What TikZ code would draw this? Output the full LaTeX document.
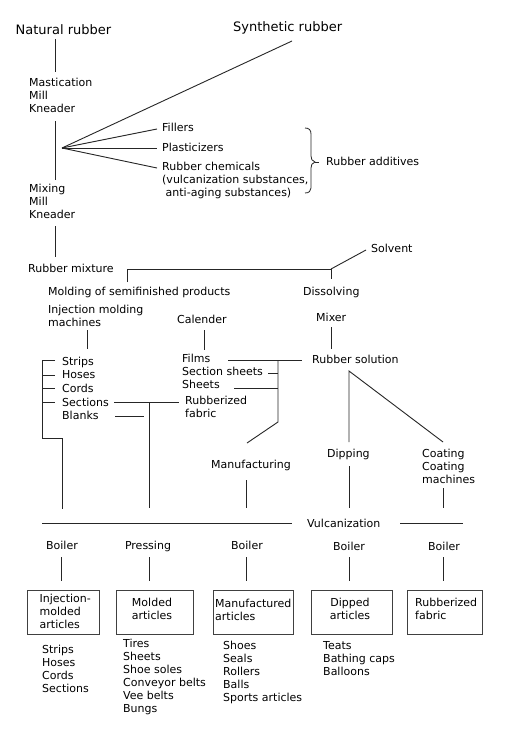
\documentclass[tikz,border=0pt]{standalone}
\usepackage{fontspec}
\setmainfont{DejaVu Sans}
\begin{document}
\begin{tikzpicture}[x=1pt,y={(0pt,-1pt)},
  txt/.style={inner sep=0pt, anchor=west, align=left, font=\fontsize{11}{13}\selectfont},
  ttl/.style={inner sep=0pt, anchor=west, font=\fontsize{13}{15}\selectfont},
  ctr/.style={inner sep=0pt, anchor=center, align=center, font=\fontsize{11}{13}\selectfont},
  conn/.style={draw=black!85, line width=0.9pt},
  boxst/.style={draw=black!75, line width=1pt, inner sep=0pt, minimum width=#1, minimum height=44}]
\useasboundingbox[fill=white] (0,0) rectangle (507,736);

% ---- top ----
\node[ttl] (nat) at (15.5,30) {Natural rubber};
\node[ttl] (syn) at (233,28) {Synthetic rubber};
\node[txt] (mast) at (29,95) {Mastication\\Mill\\Kneader};
\node[txt] (fil) at (162,127) {Fillers};
\node[txt] (pla) at (162,147) {Plasticizers};
\node[txt] (chem) at (162,180) {Rubber chemicals\\(vulcanization substances,\\\hspace{3.5pt}anti-aging substances)};
\node[txt] (add) at (326,161) {Rubber additives};
\node[txt] (mix) at (29,201) {Mixing\\Mill\\Kneader};
\node[txt] (rmix) at (28,268) {Rubber mixture};
\node[txt] (solv) at (371,248) {Solvent};
\node[txt] (mold) at (48,292) {Molding of semifinished products};
\node[txt] (diss) at (303,292) {Dissolving};
\node[txt] (inj) at (48,315.5) {Injection molding\\machines};
\node[txt] (cal) at (177,319) {Calender};
\node[txt] (mixer) at (316,317) {Mixer};

% ---- middle ----
\node[txt] (strips) at (62,362) {Strips};
\node[txt] (hoses) at (62,375) {Hoses};
\node[txt] (cords) at (62,388) {Cords};
\node[txt] (sect) at (62,402) {Sections};
\node[txt] (blanks) at (62,415) {Blanks};
\node[txt] (films) at (182,358) {Films};
\node[txt] (ssheets) at (182,371) {Section sheets};
\node[txt] (sheets) at (182,384) {Sheets};
\node[txt] (rfab) at (185,406.5) {Rubberized\\fabric};
\node[txt] (rsol) at (312,359) {Rubber solution};
\node[txt] (manuf) at (211,465) {Manufacturing};
\node[txt] (dip) at (327,454) {Dipping};
\node[txt] (coat) at (422,466) {Coating\\Coating\\machines};
\node[txt] (vulc) at (307,523) {Vulcanization};

% ---- bottom ----
\node[ctr] (b1) at (62,545) {Boiler};
\node[ctr] (b2) at (148,546) {Pressing};
\node[ctr] (b3) at (247,545) {Boiler};
\node[ctr] (b4) at (349,546) {Boiler};
\node[ctr] (b5) at (444,546) {Boiler};

\node[boxst=72] (bx1) at (63,612) {};
\node[boxst=77] (bx2) at (154.5,612) {};
\node[boxst=80] (bx3) at (253,612) {};
\node[boxst=81] (bx4) at (351.5,612) {};
\node[boxst=75] (bx5) at (444.5,612) {};
\node[txt] (t1) at (39.5,611) {Injection-\\molded\\articles};
\node[ctr] (t2) at (152,608.5) {Molded\\articles};
\node[txt] (t3) at (215,609.5) {Manufactured\\articles};
\node[ctr] (t4) at (350,608.5) {Dipped\\articles};
\node[txt] (t5) at (415,608.5) {Rubberized\\fabric};

\node[txt] (l1) at (42,668.5) {Strips\\Hoses\\Cords\\Sections};
\node[txt] (l2) at (123,677) {Tires\\Sheets\\Shoe soles\\Conveyor belts\\Vee belts\\Bungs};
\node[txt] (l3) at (223,672) {Shoes\\Seals\\Rollers\\Balls\\Sports articles};
\node[txt] (l4) at (323,659) {Teats\\Bathing caps\\Balloons};

% ---- connector points ----
\coordinate (c1a) at (55,39);  \coordinate (c1b) at (55,72);
\coordinate (c2a) at (55,121); \coordinate (c2b) at (55,180);
\coordinate (fan) at (62,148);
\coordinate (synE) at (292,41);
\coordinate (filE) at (157,129);
\coordinate (plaE) at (157,148);
\coordinate (chemE) at (157,168);
\coordinate (c3a) at (55,226); \coordinate (c3b) at (55,257);
\coordinate (sp1) at (127,282); \coordinate (sp2) at (127,269);
\coordinate (sp3) at (331,269); \coordinate (sp4) at (331,279);
\coordinate (solE) at (366,250);
\coordinate (i1) at (87,330); \coordinate (i2) at (87,349);
\coordinate (k1) at (204,330); \coordinate (k2) at (204,350);
\coordinate (m1) at (331,327); \coordinate (m2) at (331,349);
\coordinate (lb1) at (55,360); \coordinate (lb2) at (42,360);
\coordinate (lb3) at (42,438); \coordinate (lb4) at (62,438); \coordinate (lb5) at (62,509);
\coordinate (secA) at (114,402); \coordinate (secB) at (179,402);
\coordinate (blA) at (115,416); \coordinate (blB) at (144,416);
\coordinate (pv1) at (149,402); \coordinate (pv2) at (149,508);
\coordinate (fA) at (228,360); \coordinate (fB) at (302,360);
\coordinate (fv1) at (278,360); \coordinate (fv2) at (278,422); \coordinate (fv3) at (247,443);
\coordinate (ssA) at (268,373); \coordinate (ssB) at (278,373);
\coordinate (shA) at (234,388); \coordinate (shB) at (278,388);
\coordinate (rs1) at (349,371); \coordinate (rs2) at (349,442); \coordinate (rs3) at (443,442);
\coordinate (mf1) at (246,480); \coordinate (mf2) at (246,508);
\coordinate (dp1) at (349,466); \coordinate (dp2) at (349,508);
\coordinate (ct1) at (443,488); \coordinate (ct2) at (443,508);
\coordinate (v1) at (42,523); \coordinate (v2) at (292,523);
\coordinate (v3) at (400,523); \coordinate (v4) at (463,523);

% ---- connectors ----
\draw[conn] (c1a) -- (c1b);
\draw[conn] (c2a) -- (c2b);
\draw[conn] (fan) -- (synE);
\draw[conn] (fan) -- (filE);
\draw[conn] (fan) -- (plaE);
\draw[conn] (fan) -- (chemE);
\draw[conn] (c3a) -- (c3b);
\draw[conn] (sp1) -- (sp2) -- (sp3) -- (sp4);
\draw[conn] (sp3) -- (solE);
\draw[conn] (i1) -- (i2);
\draw[conn] (k1) -- (k2);
\draw[conn] (m1) -- (m2);
\draw[conn] (lb1) -- (lb2) -- (lb3) -- (lb4) -- (lb5);
\draw[conn] (lb2 |- hoses) -- ++(13,0);
\draw[conn] (lb2 |- cords) -- ++(13,0);
\draw[conn] (lb2 |- sect) -- ++(13,0);
\draw[conn] (secA) -- (secB);
\draw[conn] (blA) -- (blB);
\draw[conn] (pv1) -- (pv2);
\draw[conn] (fA) -- (fB);
\draw[conn] (fv1) -- (fv2) -- (fv3);
\draw[conn] (ssA) -- (ssB);
\draw[conn] (shA) -- (shB);
\draw[conn] (rs2) -- (rs1) -- (rs3);
\draw[conn] (mf1) -- (mf2);
\draw[conn] (dp1) -- (dp2);
\draw[conn] (ct1) -- (ct2);
\draw[conn] (v1) -- (v2);
\draw[conn] (v3) -- (v4);
\foreach \n/\x in {1/61,2/149,3/246,4/349,5/443}{
  \coordinate (bt\n) at (\x,557);
  \coordinate (bb\n) at (\x,581);
  \draw[conn] (bt\n) -- (bb\n);
}
% brace
\coordinate (brT) at (305,128);
\coordinate (brTip) at (315,162);
\coordinate (brB) at (305,193);
\draw[conn, line width=0.8pt] (brT) .. controls (309,128) and (311,130) .. (311,134) -- (311,156)
  .. controls (311,159) and (312,161) .. (brTip)
  .. controls (312,163) and (311,165) .. (311,168) -- (311,188)
  .. controls (311,191) and (309,193) .. (brB);
\draw[conn, line width=0.8pt] (brTip) -- (319,162);
\end{tikzpicture}
\end{document}
